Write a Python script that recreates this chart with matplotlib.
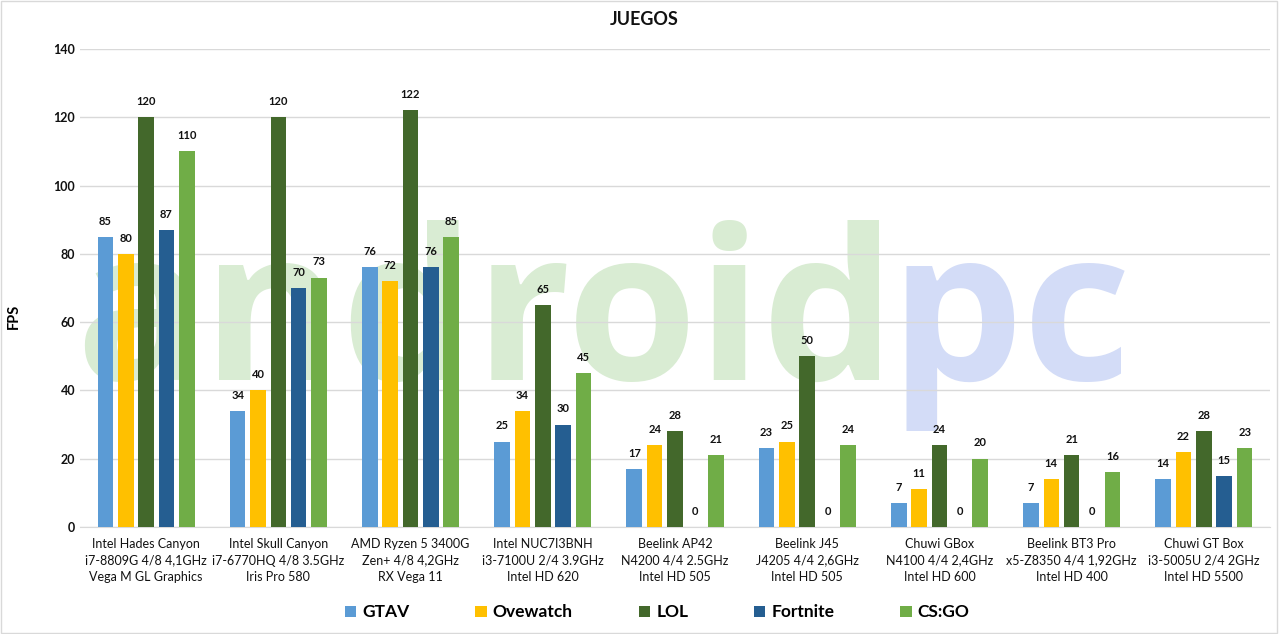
import matplotlib
matplotlib.use('Agg')
import matplotlib.pyplot as plt
import numpy as np
from matplotlib.patches import Rectangle

plt.rcParams['font.family'] = ['Lato', 'DejaVu Sans']

categories = [
    'Intel Hades Canyon\ni7-8809G 4/8 4,1GHz\nVega M GL Graphics',
    'Intel Skull Canyon\ni7-6770HQ 4/8 3.5GHz\nIris Pro 580',
    'AMD Ryzen 5 3400G\nZen+ 4/8 4,2GHz\nRX Vega 11',
    'Intel NUC7I3BNH\ni3-7100U 2/4 3.9GHz\nIntel HD 620',
    'Beelink AP42\nN4200 4/4 2.5GHz\nIntel HD 505',
    'Beelink J45\nJ4205 4/4 2,6GHz\nIntel HD 505',
    'Chuwi GBox\nN4100 4/4 2,4GHz\nIntel HD 600',
    'Beelink BT3 Pro\nx5-Z8350 4/4 1,92GHz\nIntel HD 400',
    'Chuwi GT Box\ni3-5005U 2/4 2GHz\nIntel HD 5500',
]
series = ['GTAV', 'Ovewatch', 'LOL', 'Fortnite', 'CS:GO']
gtav = [85, 34, 76, 25, 17, 23, 7, 7, 14]
ovewatch = [80, 40, 72, 34, 24, 25, 11, 14, 22]
lol = [120, 120, 122, 65, 28, 50, 24, 21, 28]
fortnite = [87, 70, 76, 30, 0, 0, 0, 0, 15]
csgo = [110, 73, 85, 45, 21, 24, 20, 16, 23]
colors = ['#5B9BD5', '#FFC000', '#43682B', '#255E91', '#70AD47']

fig = plt.figure(figsize=(12.8, 6.34), dpi=100)
ax = fig.add_axes([0.0625, 0.1688, 0.9297, 0.754])

x = np.arange(len(categories))
pitch = 0.154
width = 0.118
values = [gtav, ovewatch, lol, fortnite, csgo]
for i, (name, vals, col) in enumerate(zip(series, values, colors)):
    pos = x + (i - 2) * pitch
    ax.bar(pos, vals, width=width, color=col, label=name, zorder=3)
    for p, v in zip(pos, vals):
        ax.text(p, v + 3.0, str(v), ha='center', va='bottom', fontsize=8,
                fontweight='bold', color='#111111', zorder=4)

# marca de agua "androidpc"
wm_y = 43
ax.text(-0.54, wm_y, 'android', fontsize=152, fontweight='bold', family='Open Sans',
        color='#d9ecd3', ha='left', va='baseline', zorder=1)
ax.text(5.62, wm_y, 'pc', fontsize=152, fontweight='bold', family='Open Sans',
        color='#d3dcf7', ha='left', va='baseline', zorder=1)

ax.set_xlim(-0.5, len(categories) - 0.5)
ax.set_ylim(0, 140)
ax.set_yticks(range(0, 141, 20))
ax.yaxis.grid(True, color='#d9d9d9', linewidth=1, zorder=2)
ax.set_axisbelow(False)
for s in ['top', 'right', 'left']:
    ax.spines[s].set_visible(False)
ax.spines['bottom'].set_color('#d9d9d9')
ax.spines['bottom'].set_zorder(2)
ax.tick_params(axis='both', length=0, labelsize=9, colors='#111111')
ax.tick_params(axis='x', pad=8)
ax.set_xticks(x)
ax.set_xticklabels(categories, fontsize=9, linespacing=1.45)
ax.set_ylabel('FPS', fontsize=10.5, fontweight='bold')
ax.yaxis.set_label_coords(-0.05, 0.44)
for lbl in ax.get_yticklabels():
    lbl.set_fontweight('bold')

fig.text(0.503, 0.969, 'JUEGOS', ha='center', va='center', fontsize=13,
         fontweight='bold', color='#111111')

fig.legend(loc='center', bbox_to_anchor=(0.5135, 0.034), ncol=5, frameon=False,
           handlelength=0.65, handleheight=0.65, columnspacing=3.8,
           handletextpad=0.35, prop={'weight': 'bold', 'size': 12.5})

fig.patches.append(Rectangle((0.001, 0.001), 0.997, 0.997, transform=fig.transFigure,
                             fill=False, edgecolor='#d9d9d9', linewidth=1))

fig.savefig('out.png', dpi=100)
